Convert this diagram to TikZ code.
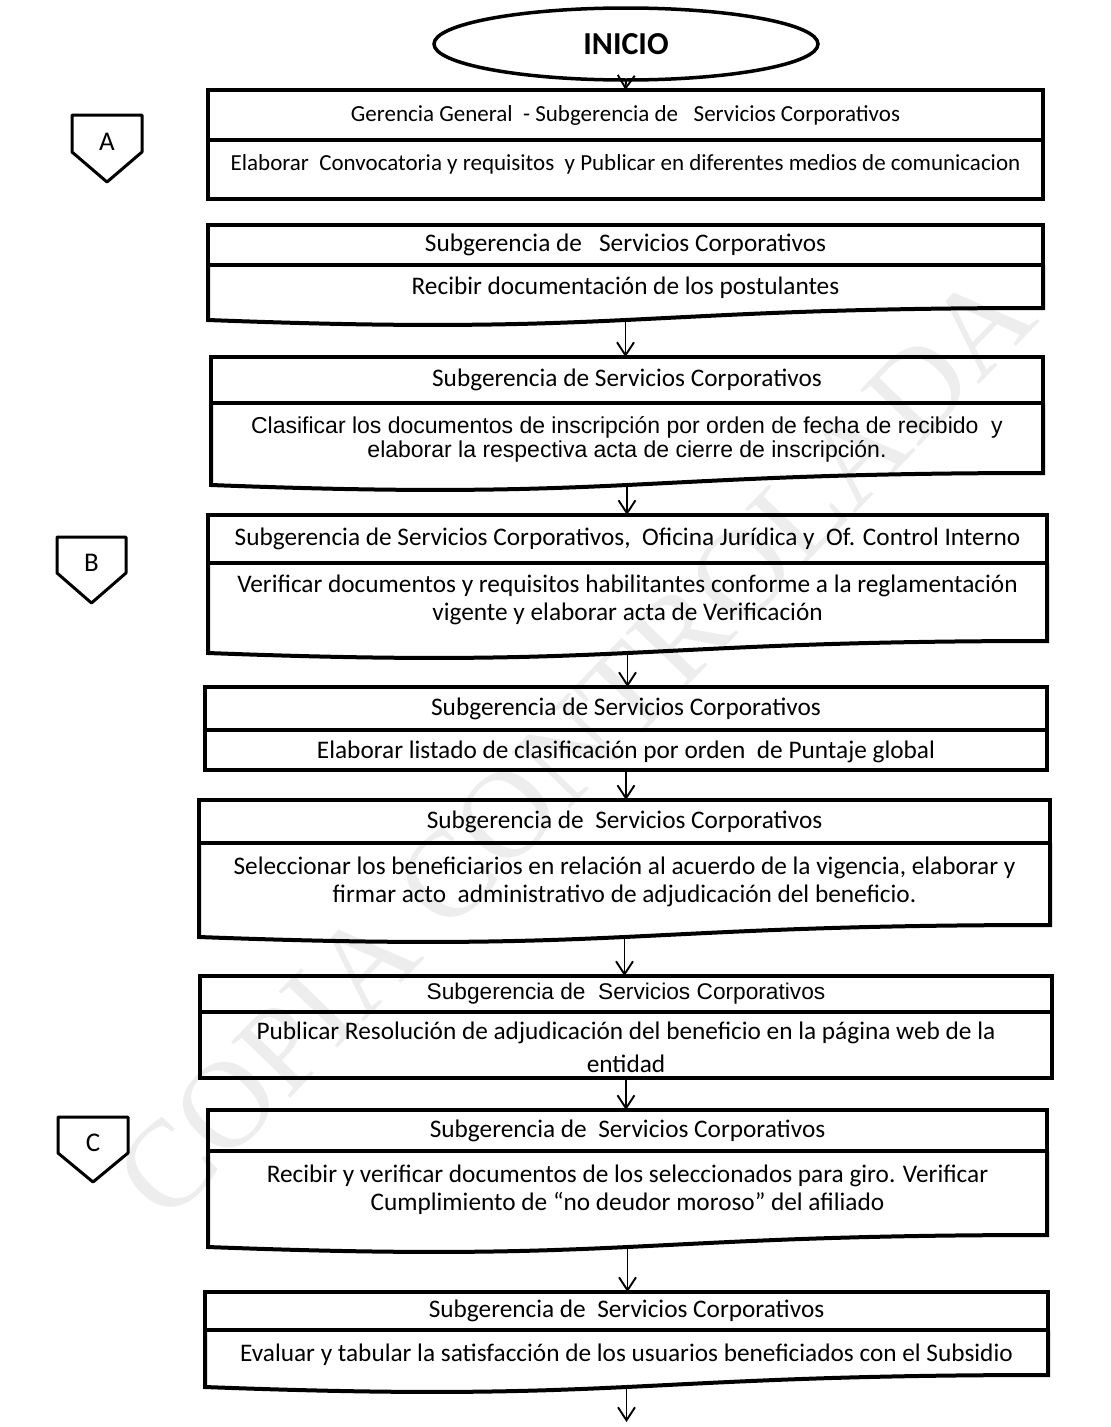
\documentclass[tikz,border=0pt]{standalone}
\usepackage{fontspec}
\setmainfont{Carlito}
\newfontfamily\arialf{Liberation Sans}
\newfontfamily\markfont{Liberation Serif}
\usetikzlibrary{shapes.geometric,arrows.meta,calc}

\begin{document}
\begin{tikzpicture}[x=1pt,y=-1pt,
	startnode/.style={draw, ellipse, line width=3.5pt, minimum width=384pt, minimum height=72pt, inner sep=0pt, outer sep=0pt, font=\bfseries\fontsize{32}{38}\selectfont},
	hdr/.style={draw, line width=4pt, inner sep=0pt, outer sep=0pt, font=\fontsize{25.3}{29}\selectfont},
	bodyframe/.style={inner sep=0pt, outer sep=0pt},
	boxline/.style={line width=4pt},
	txt/.style={align=center, inner sep=0pt, font=\fontsize{25.3}{28}\selectfont},
	flow/.style={-{Straight Barb[length=13pt,width=17pt]}, line width=1.9pt},
	tagline/.style={line width=3pt, line join=round},
	tagtext/.style={font=\fontsize{27}{30}\selectfont}]

	\useasboundingbox (0,0) rectangle (1111,1427);

	% watermark
	\node[text=black!7, rotate=46, font=\markfont\fontsize{124}{124}\selectfont] (mark) at (575,745) {COPIA CONTROLADA};

	\node[startnode] (inicio) at (626,44) {INICIO};

	% off-page tags
	\draw[tagline] (72,115) -- (142,115) -- (142,152) -- (107,182) -- (72,152) -- cycle;
	\node[tagtext] (offA) at (107,142) {A};
	\draw[tagline] (57,537) -- (126,537) -- (126,573) -- (91.5,603) -- (57,573) -- cycle;
	\node[tagtext] (offB) at (91.5,563) {B};
	\draw[tagline] (58,1117) -- (128,1117) -- (128,1153) -- (93,1182) -- (58,1153) -- cycle;
	\node[tagtext] (offC) at (93,1143) {C};

	% step 1
	\node[hdr, minimum width=835pt, minimum height=50pt, font=\fontsize{23}{27}\selectfont] (h1) at (625.5,115) {Gerencia General~~- Subgerencia de~~~Servicios Corporativos};
	\node[bodyframe, draw, line width=4pt, minimum width=835pt, minimum height=59pt] (f1) at (625.5,169.5) {};
	\node[txt, font=\fontsize{23}{27}\selectfont] (t1) at (625.5,164) {Elaborar~~Convocatoria y requisitos~~y Publicar en diferentes medios de comunicacion};

	% step 2
	\node[hdr, minimum width=835pt, minimum height=40pt] (h2) at (625.5,245) {Subgerencia de~~~Servicios Corporativos};
	\node[bodyframe, minimum width=835pt, minimum height=55pt] (f2) at (625.5,292.5) {};
	\draw[boxline] (f2.north west) -- (f2.south west) .. controls ($(f2.south)+(0,16)$) and ($(f2.south)+(0,-12)$) .. ($(f2.south east)+(0,-12)$) -- (f2.north east);
	\node[txt] (t2) at (625.5,288) {Recibir documentación de los postulantes};

	% step 3
	\node[hdr, minimum width=832pt, minimum height=46pt] (h3) at (627,380) {Subgerencia de Servicios Corporativos};
	\node[bodyframe, minimum width=832pt, minimum height=82pt] (f3) at (627,444) {};
	\draw[boxline] (f3.north west) -- (f3.south west) .. controls ($(f3.south)+(0,16)$) and ($(f3.south)+(0,-12)$) .. ($(f3.south east)+(0,-12)$) -- (f3.north east);
	\node[txt, font=\arialf\fontsize{23}{24}\selectfont] (t3) at (627,439) {Clasificar los documentos de inscripción por orden de fecha de recibido~~y\\elaborar la respectiva acta de cierre de inscripción.};

	% step 4
	\node[hdr, minimum width=839pt, minimum height=48pt] (h4) at (627.5,539) {Subgerencia de Servicios Corporativos,~~Oficina Jurídica y~~Of. Control Interno};
	\node[bodyframe, minimum width=839pt, minimum height=90pt] (f4) at (627.5,608) {};
	\draw[boxline] (f4.north west) -- (f4.south west) .. controls ($(f4.south)+(0,16)$) and ($(f4.south)+(0,-12)$) .. ($(f4.south east)+(0,-12)$) -- (f4.north east);
	\node[txt] (t4) at (627.5,600) {Verificar documentos y requisitos habilitantes conforme a la reglamentación\\vigente y elaborar acta de Verificación};

	% step 5
	\node[hdr, minimum width=842pt, minimum height=43pt] (h5) at (626,708.5) {Subgerencia de Servicios Corporativos};
	\node[bodyframe, draw, line width=4pt, minimum width=842pt, minimum height=40pt] (f5) at (626,750) {};
	\node[txt] (t5) at (626,752) {Elaborar listado de clasificación por orden~~de Puntaje global};

	% step 6
	\node[hdr, minimum width=851pt, minimum height=43pt] (h6) at (624.5,821.5) {Subgerencia de~~Servicios Corporativos};
	\node[bodyframe, minimum width=851pt, minimum height=94pt] (f6) at (624.5,890) {};
	\draw[boxline] (f6.north west) -- (f6.south west) .. controls ($(f6.south)+(0,16)$) and ($(f6.south)+(0,-12)$) .. ($(f6.south east)+(0,-12)$) -- (f6.north east);
	\node[txt] (t6) at (624.5,882) {Seleccionar los beneficiarios en relación al acuerdo de la vigencia, elaborar y\\firmar acto~~administrativo de adjudicación del beneficio.};

	% step 7
	\node[hdr, minimum width=852pt, minimum height=36pt, font=\arialf\fontsize{22.7}{26}\selectfont] (h7) at (626,994) {Subgerencia de~~Servicios Corporativos};
	\node[bodyframe, draw, line width=4pt, minimum width=852pt, minimum height=66pt] (f7) at (626,1045) {};
	\node[txt, font=\fontsize{25.3}{33}\selectfont] (t7) at (626,1047) {Publicar Resolución de adjudicación del beneficio en la página web de la\\entidad};

	% step 8
	\node[hdr, minimum width=839pt, minimum height=41pt] (h8) at (627.5,1130.5) {Subgerencia de~~Servicios Corporativos};
	\node[bodyframe, minimum width=839pt, minimum height=96pt] (f8) at (627.5,1199) {};
	\draw[boxline] (f8.north west) -- (f8.south west) .. controls ($(f8.south)+(0,16)$) and ($(f8.south)+(0,-12)$) .. ($(f8.south east)+(0,-12)$) -- (f8.north east);
	\node[txt] (t8) at (627.5,1190) {Recibir y verificar documentos de los seleccionados para giro. Verificar\\Cumplimiento de “no deudor moroso” del afiliado};

	% step 9
	\node[hdr, minimum width=843pt, minimum height=38pt] (h9) at (626.5,1311) {Subgerencia de~~Servicios Corporativos};
	\node[bodyframe, minimum width=843pt, minimum height=57pt] (f9) at (626.5,1358.5) {};
	\draw[boxline] (f9.north west) -- (f9.south west) .. controls ($(f9.south)+(0,16)$) and ($(f9.south)+(0,-12)$) .. ($(f9.south east)+(0,-12)$) -- (f9.north east);
	\node[txt] (t9) at (626.5,1355) {Evaluar y tabular la satisfacción de los usuarios beneficiados con el Subsidio};

	\coordinate (fin) at (626.5,1422);

	\draw[flow] (inicio.south) -- (h1.north);
	\draw[flow] (f2.south) -- (f2.south |- h3.north);
	\draw[flow] (f3.south) -- (f3.south |- h4.north);
	\draw[flow] (f4.south) -- (f4.south |- h5.north);
	\draw[flow] (f5.south) -- (f5.south |- h6.north);
	\draw[flow] (f6.south) -- (f6.south |- h7.north);
	\draw[flow] (f7.south) -- (f7.south |- h8.north);
	\draw[flow] (f8.south) -- (f8.south |- h9.north);
	\draw[flow] (f9.south) -- (fin);
\end{tikzpicture}
\end{document}
